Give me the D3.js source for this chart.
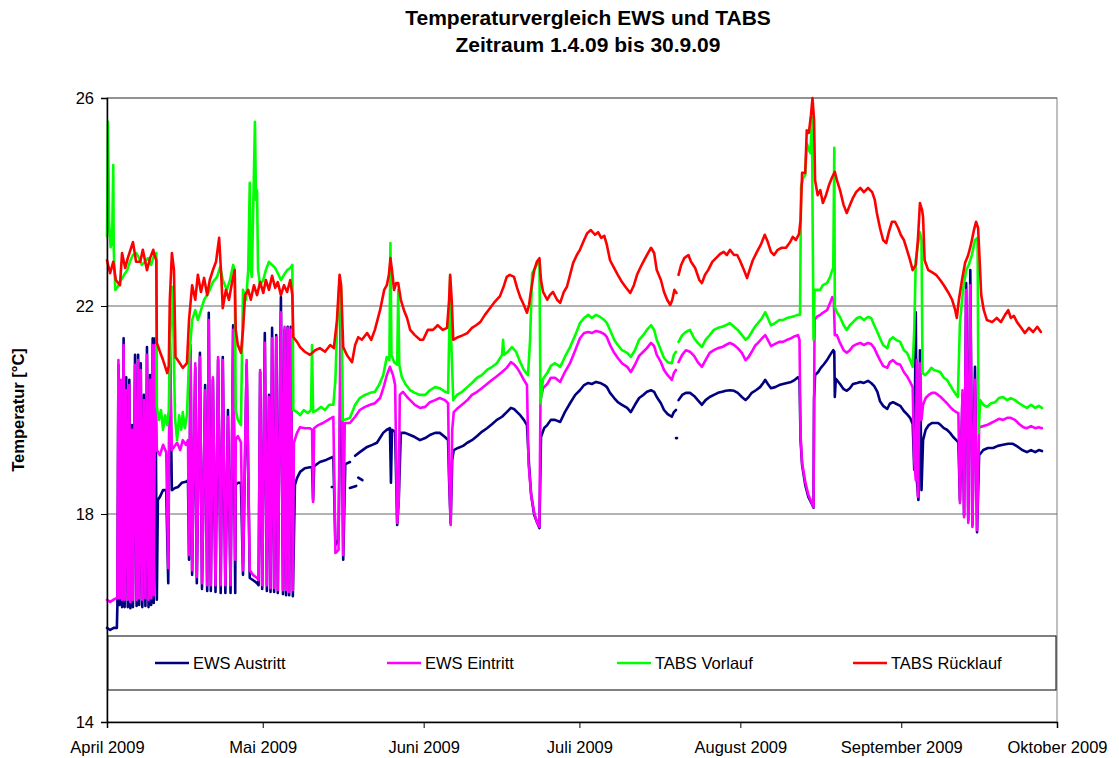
<!DOCTYPE html>
<html><head><meta charset="utf-8">
<script src="https://cdn.jsdelivr.net/npm/d3@7"></script>
<style>
body{margin:0;background:#fff;}
svg{display:block;font-family:"Liberation Sans",Arial,sans-serif;}
</style></head>
<body><svg id="chart" width="1119" height="758"></svg>
<script>
// ---- data: [day offset from 1 April 2009, temperature °C]; null = gap ----
const seriesNames = ["EWS Austritt","EWS Eintritt","TABS Vorlauf","TABS Rücklauf"];
const seriesColors = ["#000080","#FF00FF","#00FF00","#FF0000"];
const monthLabels = ["April 2009","Mai 2009","Juni 2009","Juli 2009","August 2009","September 2009","Oktober 2009"];
const yTickValues = [14,18,22,26];
const titleLines = ["Temperaturvergleich EWS und TABS","Zeitraum 1.4.09 bis 30.9.09"];
const yAxisTitle = "Temperatur [°C]";

const ewsAustritt = [[0,15.81],[0.6,15.77],[1.3,15.81],[1.9,15.81],[2,16.23],[2.2,20.87],[2.4,16.25],[2.7,20.48],[2.9,16.21],[3.2,21.38],[3.4,16.21],[3.7,20.63],[4,16.21],[4.3,20.58],[4.5,16.19],[4.8,19.71],[5,16.21],[5.4,21.06],[5.7,16.23],[6,21.06],[6.2,16.25],[6.5,20.9],[6.8,16.21],[7.1,20.29],[7.4,16.23],[7.7,21.21],[8,16.21],[8.3,20.67],[8.5,16.25],[8.8,21.38],[9,16.29],[9.3,21.38],[9.6,16.35],[9.8,18.27],[10.2,18.33],[10.8,18.46],[11.4,18.46],[11.8,16.67],[12.1,21.29],[12.5,18.46],[13.1,18.5],[13.7,18.52],[14.4,18.6],[15.2,18.62],[15.6,18.65],[15.8,17.12],[16.1,21.15],[16.4,16.83],[17,20.81],[17.3,16.67],[17.9,21.1],[18.3,16.56],[18.9,20.48],[19.3,16.52],[19.6,21.87],[20,16.52],[20.4,20.58],[20.9,16.5],[21.4,20.96],[21.9,16.48],[22.3,21.02],[22.8,16.48],[23.3,20],[23.8,16.48],[24.3,21.63],[24.7,16.48],[24.8,18.56],[25.2,18.6],[25.8,18.6],[26.2,16.83],[26.9,20.87],[27.5,16.77],[28.1,16.73],[28.9,16.67],[29.2,16.63],[29.5,20.73],[29.9,16.56],[30.4,21.48],[30.8,16.52],[31.2,20.29],[31.5,16.5],[31.8,21.58],[32.2,16.5],[32.6,21.44],[32.9,16.48],[33.5,22.17],[33.9,16.46],[34.2,21.54],[34.5,16.44],[34.8,21.6],[35.1,16.44],[35.4,21.6],[35.8,16.42],[36.2,18.56],[36.6,18.69],[37.2,18.81],[38.1,18.88],[39.1,18.9],[39.5,18.9],[39.7,18.27],[39.9,18.92],[41,19],[42.2,19.04],[43.6,19.1],[44,17.4],[44.6,17.5],[45.1,21.67],[45.5,17.12],[45.9,18.96],[46.8,19],[47.3,null],[47.8,19.12],[48.7,19.19],[50.1,19.29],[51.1,19.33],[52,19.37],[53.2,19.56],[53.9,19.62],[54.5,19.65],[54.7,18.6],[54.9,19.62],[55.5,19.58],[55.9,17.79],[56.2,18.27],[56.6,19.56],[57.4,19.56],[58.4,19.52],[59.3,19.48],[60.3,19.42],[61.3,19.46],[62.2,19.52],[63.2,19.56],[64.1,19.56],[65.1,19.48],[65.7,19.42],[65.9,18.65],[66.2,17.83],[66.5,19.04],[66.8,19.23],[67.6,19.27],[68.6,19.31],[69.4,19.37],[70.3,19.42],[71.3,19.5],[72.2,19.58],[73.2,19.65],[74.2,19.73],[75.1,19.81],[76.1,19.87],[77,19.96],[77.8,20.04],[78.4,20.02],[79,19.96],[79.6,19.9],[80.3,19.81],[80.9,19.71],[81.3,18.94],[81.7,18.37],[82.3,17.98],[82.8,17.85],[83.3,17.73],[83.6,19.48],[84.2,19.65],[84.8,19.71],[85.5,19.81],[86.3,19.81],[87.3,19.77],[88.2,19.96],[89.2,20.13],[90.2,20.29],[91.1,20.38],[91.9,20.48],[92.7,20.52],[93.4,20.5],[94.2,20.54],[95,20.52],[95.8,20.48],[96.3,20.44],[96.9,20.33],[97.7,20.23],[98.4,20.15],[99.2,20.1],[100.2,20.04],[100.9,19.96],[101.7,20.1],[102.5,20.23],[103.3,20.29],[104,20.35],[104.8,20.38],[105.4,20.35],[105.9,20.25],[106.7,20.13],[107.3,20],[108,19.92],[108.8,19.87],[109.2,19.96],[109.6,20],[109.8,null],[110.1,20.19],[110.8,20.29],[111.5,20.33],[112.3,20.33],[113.1,20.27],[113.8,20.19],[114.6,20.1],[115.3,20.19],[116.1,20.25],[116.9,20.29],[117.7,20.33],[118.5,20.35],[119.2,20.37],[120,20.38],[120.8,20.37],[121.5,20.33],[122.3,20.25],[123,20.19],[123.6,20.25],[124.2,20.33],[125,20.38],[125.8,20.44],[126.4,20.52],[126.8,20.58],[127.3,20.5],[127.9,20.42],[128.7,20.44],[129.5,20.48],[130.2,20.5],[131,20.52],[131.8,20.54],[132.5,20.58],[133.1,20.63],[133.4,20.58],[133.6,19.42],[133.9,18.94],[134.5,18.56],[135.1,18.33],[135.7,18.21],[136.1,18.12],[136.2,20.19],[136.4,20.67],[137,20.73],[137.5,20.81],[138.1,20.88],[138.7,20.96],[139.3,21.06],[139.9,21.15],[140.1,21.12],[140.2,20.25],[140.4,20.6],[141.2,20.5],[141.9,20.4],[142.5,20.37],[143.1,20.42],[143.7,20.5],[144.5,20.52],[145.1,20.54],[145.8,20.52],[146.6,20.56],[147.2,20.52],[147.8,20.46],[148.4,20.35],[148.9,20.17],[149.5,20.08],[150.3,20.02],[150.8,20.12],[151.4,20.15],[152,20.12],[152.8,20.08],[153.5,19.98],[154.1,19.92],[154.7,19.85],[155.2,19.73],[155.5,18.85],[155.8,21.88],[156,18.65],[156.3,18.27],[156.6,21.15],[156.9,18.46],[157.2,19.42],[157.7,19.62],[158.3,19.71],[158.9,19.75],[159.5,19.75],[160.1,19.75],[160.6,19.71],[161.2,19.65],[161.8,19.62],[162.4,19.56],[163,19.48],[163.6,19.42],[164,19.38],[164.3,18.27],[164.8,20.29],[165.1,17.98],[165.5,22.44],[165.9,17.88],[166.3,22.69],[166.7,17.79],[167.2,20.83],[167.6,17.65],[168,19.13],[168.8,19.23],[169.7,19.27],[170.7,19.27],[171.6,19.31],[172.6,19.33],[173.6,19.35],[174.5,19.35],[175.5,19.29],[176.3,19.23],[177.2,19.19],[178,19.23],[178.8,19.19],[179.5,19.23],[180.1,19.21]];
const ewsAustrittFragments = [[[43.3,18.52],[43.6,18.52]],[[46.8,18.5],[48.0,18.54]],[[48.4,18.7],[49.2,18.65]],[[109.6,19.46],[109.8,19.46]]];

const ewsEintritt = [[0,16.35],[0.6,16.31],[1.2,16.35],[1.7,16.38],[2,16.38],[2.2,20.96],[2.4,16.38],[2.7,20.58],[2.9,16.35],[3.2,21.25],[3.4,16.35],[3.7,20.38],[4,16.35],[4.3,20.48],[4.5,16.31],[4.8,19.62],[5,16.35],[5.4,20.87],[5.7,16.35],[6,20.96],[6.2,16.38],[6.5,20.77],[6.8,16.35],[7.1,20.19],[7.4,16.38],[7.7,21.06],[8,16.35],[8.3,20.58],[8.5,16.38],[8.8,21.25],[9,16.44],[9.3,21.25],[9.6,19.23],[10.2,19.13],[10.8,19.33],[11.4,19.19],[11.8,16.96],[12.1,21.35],[12.5,19.23],[12.9,19.29],[13.5,19.37],[14.1,19.23],[14.6,19.42],[15.2,19.33],[15.6,19.42],[15.8,17.21],[16.1,21.25],[16.4,16.92],[17,20.9],[17.3,16.79],[17.9,21.02],[18.3,16.67],[18.9,20.38],[19.3,16.63],[19.6,21.73],[20,16.63],[20.4,20.63],[20.9,16.63],[21.4,21.02],[21.9,16.63],[22.3,20.96],[22.8,16.63],[23.3,19.87],[23.8,16.63],[24.3,21.54],[24.7,17.12],[24.8,19.42],[25.2,19.5],[25.8,19.38],[26.2,16.92],[26.9,20.96],[27.5,16.92],[28.1,16.83],[28.9,16.77],[29.2,16.73],[29.5,20.77],[29.9,16.63],[30.4,21.29],[30.8,16.63],[31.2,20.25],[31.5,16.58],[31.8,21.38],[32.2,16.58],[32.6,21.4],[32.9,16.54],[33.5,21.88],[33.9,16.54],[34.2,21.6],[34.5,16.54],[34.8,21.58],[35.1,16.5],[35.4,21.54],[35.8,16.54],[36,19.37],[36.6,19.56],[37.2,19.67],[38.1,19.65],[39.1,19.65],[39.5,19.62],[39.7,18.23],[39.9,19.65],[40.7,19.71],[41.6,19.75],[42.6,19.81],[43.6,19.87],[44,17.25],[44.6,17.31],[45,22.12],[45.2,21.54],[45.5,17.21],[45.8,19.75],[46.8,19.75],[47.8,19.87],[48.7,20],[49.7,20.06],[50.7,20.1],[51.6,20.13],[52.6,20.23],[53.4,20.48],[53.9,20.67],[54.5,20.83],[55.1,20.67],[55.5,20.48],[55.9,17.83],[56.2,18.27],[56.4,20.29],[57,20.35],[57.8,20.25],[58.4,20.19],[59.3,20.1],[60.3,20.04],[61.3,20.06],[62.2,20.15],[63.2,20.19],[64.1,20.23],[65.1,20.19],[65.7,20.13],[65.9,18.85],[66.2,17.79],[66.5,19.62],[66.8,19.96],[67.6,20.04],[68.6,20.12],[69.4,20.19],[70.3,20.29],[71.3,20.35],[72.2,20.42],[73.2,20.5],[74.2,20.58],[75.1,20.65],[76.1,20.73],[77,20.81],[77.8,20.92],[78.4,20.88],[79,20.81],[79.6,20.71],[80.3,20.58],[80.9,20.48],[81.2,18.98],[81.7,18.37],[82.3,18.02],[82.8,17.85],[83.3,17.75],[83.5,20.19],[84,20.42],[84.8,20.5],[85.5,20.62],[86.3,20.62],[87.3,20.54],[88.2,20.73],[89.2,20.9],[90.2,21.15],[91.1,21.38],[91.9,21.48],[92.7,21.5],[93.4,21.48],[94.2,21.52],[95,21.5],[95.8,21.46],[96.3,21.4],[96.9,21.25],[97.7,21.1],[98.4,21],[99.2,20.9],[100.2,20.83],[100.9,20.73],[101.7,20.87],[102.5,21.04],[103.3,21.12],[104,21.19],[104.8,21.29],[105.4,21.23],[105.9,21.06],[106.7,20.92],[107.3,20.77],[108,20.67],[108.8,20.58],[109.2,20.71],[109.6,20.77],[109.8,null],[110.1,20.92],[110.8,21.06],[111.5,21.15],[112.3,21.12],[113.1,21.04],[113.8,20.92],[114.6,20.83],[115.3,20.96],[116.1,21.1],[116.9,21.15],[117.7,21.19],[118.5,21.21],[119.2,21.25],[120,21.29],[120.8,21.25],[121.5,21.19],[122.3,21.1],[123,20.96],[123.6,21.02],[124.2,21.12],[124.8,21.23],[125.4,21.29],[126.2,21.38],[126.8,21.44],[127.3,21.35],[127.9,21.23],[128.7,21.27],[129.5,21.31],[130.2,21.31],[131,21.35],[131.8,21.38],[132.5,21.42],[133.1,21.44],[133.4,21.35],[133.6,19.52],[133.9,18.98],[134.5,18.62],[135.1,18.37],[135.7,18.23],[136.1,18.13],[136.3,21.73],[136.7,21.79],[137.4,21.83],[137.9,21.87],[138.7,21.92],[139.3,22.06],[139.7,22.17],[140,22.12],[140.2,21.44],[140.6,21.44],[141.2,21.29],[141.9,21.15],[142.5,21.1],[143.1,21.15],[143.7,21.23],[144.5,21.27],[145.1,21.29],[145.8,21.25],[146.6,21.29],[147.2,21.27],[147.8,21.19],[148.4,21.06],[148.9,20.96],[149.5,20.85],[150.3,20.81],[150.8,20.92],[151.4,20.96],[152,20.9],[152.8,20.87],[153.5,20.73],[154.1,20.65],[154.7,20.54],[155.2,20.44],[155.5,19.04],[155.8,18.65],[156,20.96],[156.2,18.33],[156.6,20.9],[156.9,19.81],[157.2,20.1],[157.7,20.23],[158.3,20.29],[158.9,20.33],[159.5,20.33],[160.1,20.29],[160.6,20.25],[161.2,20.19],[161.8,20.13],[162.4,20.06],[163,20],[163.6,19.96],[164,19.94],[164.3,18.21],[164.8,20.38],[165.1,17.94],[165.5,22.31],[165.9,17.83],[166.3,22.4],[166.7,17.75],[167.2,20.58],[167.6,17.69],[168,19.67],[168.8,19.69],[169.5,19.71],[170.3,19.75],[171.1,19.79],[171.8,19.83],[172.6,19.81],[173.4,19.85],[174.1,19.85],[174.9,19.81],[175.7,19.73],[176.5,19.67],[177.2,19.65],[178,19.69],[178.8,19.65],[179.5,19.67],[180.1,19.65]];

const tabsVorlauf = [[0,23.33],[0.2,25.54],[0.4,23.65],[0.7,23.13],[1,23.27],[1.2,24.71],[1.3,23.08],[1.6,22.31],[2.1,22.37],[2.7,22.5],[3.3,22.6],[3.9,22.69],[4.4,22.85],[5,22.98],[5.6,23.02],[6.2,22.92],[6.7,22.79],[7.3,22.85],[7.9,22.92],[8.5,22.79],[9.1,22.98],[9.5,23.02],[9.6,20.06],[10,19.81],[10.4,20],[10.8,19.62],[11.2,19.9],[11.6,19.71],[11.9,20],[12.1,21.15],[12.5,22.37],[12.8,21.54],[13.1,19.85],[13.5,19.42],[13.9,19.9],[14.3,19.62],[14.6,19.96],[15,19.65],[15.4,19.9],[15.8,20.96],[16.4,21.73],[17,21.92],[17.5,21.73],[18.1,21.92],[18.7,22.12],[19.3,22.21],[19.8,22.31],[20.4,22.46],[21.2,22.56],[21.8,22.75],[22.3,22.5],[23.1,22.31],[23.7,22.5],[24.3,22.79],[24.6,22.69],[24.8,20],[25.2,19.81],[25.8,19.71],[26.2,22.31],[26.8,22.12],[27.2,22.69],[27.5,24.37],[27.7,22.69],[27.9,22.56],[28.2,24.04],[28.5,25.54],[28.7,24.04],[28.9,24.23],[29.1,22.69],[29.5,22.4],[30.1,22.5],[30.6,22.69],[31.2,22.85],[31.8,22.79],[32.4,22.73],[32.9,22.63],[33.5,22.5],[34.1,22.6],[34.7,22.69],[35.3,22.73],[35.7,22.79],[35.9,20],[36.6,19.96],[37.2,19.9],[37.9,20],[38.7,19.94],[39.3,20],[39.5,21.25],[39.7,19.96],[40.5,20],[41.2,20.06],[42,20],[42.8,20.1],[43.6,20.1],[44,20.58],[44.3,21.54],[44.8,22.5],[45.1,22.31],[45.4,19.81],[45.8,19.81],[46.8,19.85],[47.8,20.1],[48.7,20.23],[49.7,20.29],[50.7,20.33],[51.6,20.35],[52.4,20.48],[53.2,20.67],[53.9,21.02],[54.4,20.96],[54.6,23.21],[54.8,21.06],[55.3,20.92],[55.9,20.87],[56.1,22.31],[56.3,20.87],[56.8,20.63],[57.6,20.48],[58.4,20.38],[59.3,20.33],[60.3,20.29],[61.3,20.29],[62.2,20.38],[63.2,20.44],[64.1,20.42],[65.1,20.35],[65.7,20.33],[65.9,21.35],[66.1,22.56],[66.3,21.35],[66.7,20.19],[67.4,20.29],[68.4,20.35],[69.4,20.44],[70.3,20.52],[71.3,20.62],[72.2,20.67],[73.2,20.77],[74.2,20.83],[75.1,20.9],[76.1,21.06],[76.3,21.35],[76.5,21.06],[77.2,21.12],[78,21.21],[78.8,21.12],[79.6,20.92],[80.3,20.77],[81.1,20.67],[81.5,21.35],[81.9,22.63],[82.5,22.73],[83,22.85],[83.3,22.88],[83.5,20.13],[84,20.6],[84.8,20.71],[85.5,20.85],[86.3,20.9],[87.3,20.83],[88.2,21.02],[89.2,21.21],[90.2,21.44],[91.1,21.67],[91.9,21.77],[92.7,21.83],[93.4,21.77],[94.2,21.83],[95,21.79],[95.8,21.73],[96.3,21.67],[96.9,21.54],[97.7,21.35],[98.4,21.25],[99.2,21.15],[100.2,21.1],[100.9,21.02],[101.7,21.15],[102.5,21.35],[103.3,21.44],[104,21.54],[104.8,21.63],[105.4,21.54],[105.9,21.35],[106.7,21.15],[107.3,21],[108,20.92],[108.8,20.9],[109.2,21.06],[109.6,21.12],[109.8,null],[110.1,21.31],[110.8,21.44],[111.5,21.5],[112.3,21.54],[113.1,21.38],[113.8,21.29],[114.6,21.21],[115.3,21.35],[116.1,21.44],[116.9,21.54],[117.7,21.58],[118.5,21.6],[119.2,21.63],[120,21.67],[120.8,21.6],[121.5,21.54],[122.3,21.44],[123,21.35],[123.6,21.4],[124.2,21.5],[124.8,21.6],[125.4,21.67],[126.2,21.77],[126.8,21.88],[127.3,21.77],[127.9,21.63],[128.7,21.67],[129.5,21.73],[130.2,21.73],[131,21.77],[131.8,21.79],[132.5,21.81],[133.1,21.83],[133.5,21.83],[133.7,24.29],[134.1,24.46],[134.5,24.52],[134.8,25.13],[135.2,25],[135.5,24.94],[135.8,25.63],[135.9,24.04],[136.1,21.35],[136.3,22.31],[136.7,22.31],[137.4,22.31],[137.9,22.4],[138.7,22.44],[139.3,22.56],[139.7,22.69],[139.9,22.73],[140.1,25.04],[140.2,21.98],[140.6,21.88],[141.2,21.79],[141.9,21.63],[142.5,21.54],[143.1,21.63],[143.7,21.69],[144.5,21.77],[145.1,21.79],[145.8,21.73],[146.6,21.79],[147.2,21.77],[147.8,21.63],[148.4,21.5],[148.9,21.38],[149.5,21.25],[150.3,21.19],[150.8,21.35],[151.4,21.4],[152,21.35],[152.8,21.31],[153.5,21.15],[154.1,21.1],[154.7,20.96],[155.2,20.83],[155.5,21.54],[155.8,22.88],[156.2,23.17],[156.6,23.42],[156.9,23.27],[157.1,20.71],[157.6,20.67],[158.2,20.73],[158.8,20.81],[159.3,20.77],[159.9,20.75],[160.5,20.73],[161.2,20.62],[161.8,20.58],[162.4,20.48],[163,20.38],[163.6,20.29],[163.9,20.25],[164.3,21.67],[164.9,22.31],[165.5,22.69],[166,22.79],[166.6,22.98],[167.2,23.27],[167.7,23.31],[167.9,19.56],[168.2,20.19],[168.8,20.1],[169.5,20.06],[170.3,20.13],[171.1,20.15],[171.8,20.23],[172.6,20.25],[173.4,20.19],[174.1,20.23],[174.9,20.19],[175.7,20.13],[176.5,20.08],[177.2,20.04],[178,20.1],[178.8,20.04],[179.5,20.08],[180.1,20.04]];

const tabsRuecklauf = [[0,22.88],[0.6,22.63],[1.2,22.85],[1.7,22.5],[2.5,22.4],[2.9,23.02],[3.5,22.73],[4,22.92],[5,23.23],[5.6,22.85],[6.4,22.85],[6.9,23.08],[7.7,22.69],[8.3,22.92],[8.9,23.08],[9.2,22.96],[9.5,22.88],[9.6,21.29],[10.2,21.12],[10.8,20.96],[11.6,20.71],[11.9,20.85],[12.1,22.12],[12.5,23.02],[12.9,22.69],[13.2,21.02],[13.9,20.92],[14.6,20.81],[15.4,20.9],[15.8,21.73],[16.4,22.4],[17,22.12],[17.5,22.6],[18.1,22.27],[18.7,22.54],[19.3,22.21],[19.8,22.5],[20.4,22.69],[21,22.85],[21.6,23.31],[22,22.6],[22.3,21.96],[22.9,22.31],[23.5,22.12],[24.1,22.46],[24.6,22.69],[24.8,21.54],[25.2,21.25],[25.8,21.1],[26.2,21.54],[26.6,22.21],[27.2,22.31],[27.7,22.12],[28.3,22.4],[28.9,22.21],[29.5,22.46],[30.1,22.25],[30.6,22.5],[31.2,22.31],[31.8,22.58],[32.4,22.35],[32.9,22.46],[33.5,22.21],[34.1,22.4],[34.7,22.27],[35.3,22.5],[35.7,22.21],[35.9,21.4],[36.6,21.31],[37.2,21.21],[38.1,21.12],[39.1,21.06],[40.1,21.15],[41,21.19],[42,21.12],[43,21.25],[43.7,21.19],[44.3,21.73],[44.8,22.6],[45.1,22.4],[45.5,21.21],[46.2,21.06],[47.2,20.92],[47.8,21.25],[48.4,21.4],[49.1,21.35],[50.1,21.48],[50.9,21.35],[51.6,21.54],[52.6,21.92],[53.4,22.31],[53.9,22.4],[54.3,22.6],[54.6,22.92],[54.9,22.69],[55.3,22.31],[55.7,22.44],[56.1,22.44],[56.6,22.12],[57.2,21.92],[57.8,21.77],[58.4,21.54],[59.3,21.44],[60.3,21.35],[60.9,21.35],[61.8,21.54],[62.8,21.54],[63.7,21.63],[64.7,21.54],[65.5,21.58],[65.9,22.12],[66.1,22.6],[66.4,22.12],[66.7,21.35],[67.6,21.4],[68.6,21.44],[69.4,21.48],[70.3,21.58],[71.1,21.63],[71.9,21.69],[72.8,21.83],[73.8,21.96],[74.7,22.08],[75.7,22.19],[76.5,22.4],[77,22.56],[77.6,22.6],[78.4,22.56],[79,22.35],[79.6,22.17],[80.3,22.02],[80.9,21.87],[81.3,22.02],[81.7,22.31],[82.3,22.69],[82.8,22.85],[83.3,22.92],[83.6,22.5],[84,22.27],[84.8,22.12],[85.3,22.21],[85.9,22.27],[86.7,22.12],[87.3,22.06],[88,22.27],[88.6,22.37],[89.2,22.6],[89.8,22.83],[90.5,22.98],[91.1,23.08],[91.9,23.27],[92.5,23.4],[93.2,23.46],[94,23.37],[94.6,23.42],[95.2,23.31],[95.8,23.35],[96.3,23.17],[96.9,22.88],[97.7,22.73],[98.4,22.6],[99.2,22.46],[100,22.35],[100.8,22.25],[101.5,22.4],[102.1,22.6],[102.7,22.73],[103.3,22.85],[104,22.98],[104.8,23.12],[105.4,23.02],[105.9,22.69],[106.7,22.5],[107.3,22.27],[107.9,22.12],[108.5,22.02],[108.9,22.12],[109.3,22.31],[109.7,22.25],[109.9,null],[110.1,22.6],[110.6,22.79],[111.2,22.92],[112,22.98],[112.5,22.85],[113.3,22.73],[114.1,22.5],[114.6,22.44],[115.2,22.6],[115.8,22.69],[116.6,22.85],[117.3,22.92],[118.1,23],[118.8,23.04],[119.4,22.98],[120,23.08],[120.8,22.98],[121.4,22.98],[121.9,22.88],[122.7,22.69],[123.3,22.54],[123.9,22.73],[124.4,22.88],[125.2,23.04],[126,23.19],[126.7,23.37],[127.3,23.23],[127.9,23.04],[128.5,22.98],[129.2,23.08],[130,23.12],[130.8,23.12],[131.6,23.23],[132.1,23.33],[132.7,23.27],[133.3,23.38],[133.6,23.65],[133.9,24.56],[134.5,24.56],[134.8,25.38],[135.2,25.33],[135.6,25.67],[135.9,26],[136.2,25.58],[136.4,24.42],[136.9,24.13],[137.4,24.23],[137.9,23.98],[138.5,24.13],[139.1,24.33],[139.7,24.48],[140.2,24.58],[140.6,24.42],[141.2,24.23],[141.9,23.94],[142.5,23.79],[143.1,23.94],[143.7,24.08],[144.3,24.19],[145.1,24.27],[145.8,24.19],[146.6,24.27],[147.4,24.19],[147.9,24.04],[148.3,23.79],[148.9,23.5],[149.5,23.27],[150.1,23.21],[150.6,23.42],[151.2,23.62],[151.8,23.62],[152.4,23.5],[152.9,23.37],[153.5,23.27],[154.1,23.08],[154.7,22.88],[155.2,22.69],[155.8,22.79],[156.2,23.27],[156.6,23.98],[157,23.85],[157.2,23.71],[157.5,22.88],[158.2,22.69],[158.9,22.65],[159.7,22.6],[160.5,22.5],[161.2,22.4],[162,22.27],[162.8,22.12],[163.4,21.92],[163.7,21.77],[164.1,22.12],[164.7,22.5],[165.3,22.83],[165.9,22.98],[166.4,23.17],[167,23.46],[167.4,23.62],[167.8,23.5],[168.1,22.88],[168.4,22.21],[168.9,21.92],[169.5,21.73],[170.5,21.69],[171.4,21.77],[172.2,21.69],[173,21.83],[173.6,21.92],[174.1,21.77],[174.7,21.81],[175.3,21.69],[176.1,21.58],[176.8,21.48],[177.6,21.58],[178.4,21.5],[179.2,21.6],[179.9,21.5]];

// ---- chart ----
const W = 1119, H = 758;
const plot = {left:107, right:1057, top:98, bottom:722};
const svg = d3.select("#chart");
const start = Date.UTC(2009,3,1), end = Date.UTC(2009,9,1);
const toDate = d => new Date(start + d*864e5);

const x = d3.scaleUtc().domain([new Date(start), new Date(end)]).range([plot.left, plot.right]);
const y = d3.scaleLinear().domain([14,26]).range([plot.bottom, plot.top]);

svg.append("rect").attr("width",W).attr("height",H).attr("fill","#fff");

// title
svg.append("text").attr("x",588).attr("y",25).attr("text-anchor","middle")
  .attr("font-weight","bold").attr("font-size",21).attr("fill","#000").text(titleLines[0]);
svg.append("text").attr("x",588).attr("y",52).attr("text-anchor","middle")
  .attr("font-weight","bold").attr("font-size",21).attr("fill","#000").text(titleLines[1]);

// plot border (top/right)
svg.append("rect").attr("x",plot.left).attr("y",plot.top)
  .attr("width",plot.right-plot.left).attr("height",plot.bottom-plot.top)
  .attr("fill","#fff").attr("stroke","#808080").attr("stroke-width",1);

// gridlines
svg.append("g").selectAll("line").data(yTickValues.filter(v=>v>14)).join("line")
  .attr("x1",plot.left).attr("x2",plot.right)
  .attr("y1",d=>y(d)).attr("y2",d=>y(d))
  .attr("stroke","#666").attr("stroke-width",1);

// series
const line = d3.line().defined(d=>d[1]!==null)
  .x(d=>x(toDate(d[0]))).y(d=>y(d[1]));
const seriesData = [ewsAustritt, ewsEintritt, tabsVorlauf, tabsRuecklauf];
const gSeries = svg.append("g");
seriesData.forEach((data,i)=>{
  gSeries.append("path").datum(data).attr("d",line)
    .attr("fill","none").attr("stroke",seriesColors[i]).attr("stroke-width",2.6)
    .attr("stroke-linejoin","round").attr("stroke-linecap","round");
  if(i===0){
    ewsAustrittFragments.forEach(f=>{
      gSeries.append("path").datum(f).attr("d",line)
        .attr("fill","none").attr("stroke",seriesColors[0]).attr("stroke-width",2.6)
        .attr("stroke-linecap","round");
    });
  }
});

// axes
const yAxis = d3.axisLeft(y).tickValues(yTickValues).tickSize(6).tickPadding(7).tickFormat(d3.format("d"));
const gy = svg.append("g").attr("transform",`translate(${plot.left},0)`).call(yAxis);
gy.select(".domain").attr("stroke","#000").attr("stroke-width",1.5);
gy.selectAll(".tick line").attr("stroke","#000");
gy.selectAll("text").attr("font-size",16.5).attr("fill","#000").attr("font-family","Liberation Sans, Arial, sans-serif");

const monthTicks = d3.utcMonth.range(new Date(start), new Date(Date.UTC(2009,9,2)));
const xAxis = d3.axisBottom(x).tickValues(monthTicks).tickSize(6).tickPadding(13)
  .tickFormat((d,i)=>monthLabels[i]);
const gx = svg.append("g").attr("transform",`translate(0,${plot.bottom})`).call(xAxis);
gx.select(".domain").attr("stroke","#000").attr("stroke-width",1.5);
gx.selectAll(".tick line").attr("stroke","#000");
gx.selectAll("text").attr("font-size",16.5).attr("fill","#000").attr("font-family","Liberation Sans, Arial, sans-serif");

// y axis title
svg.append("text").attr("transform","translate(24,410) rotate(-90)")
  .attr("text-anchor","middle").attr("font-weight","bold").attr("font-size",16.5)
  .attr("fill","#000").text(yAxisTitle);

// legend
const legend = svg.append("g");
legend.append("rect").attr("x",108).attr("y",636).attr("width",948).attr("height",54)
  .attr("fill","#fff").attr("stroke","#000").attr("stroke-width",1);
const legendX = [155, 387, 617, 853];
seriesNames.forEach((n,i)=>{
  legend.append("line").attr("x1",legendX[i]).attr("x2",legendX[i]+34)
    .attr("y1",663).attr("y2",663).attr("stroke",seriesColors[i]).attr("stroke-width",2.5);
  legend.append("text").attr("x",legendX[i]+38).attr("y",669)
    .attr("font-size",16.5).attr("fill","#000").text(n);
});
</script></body></html>
